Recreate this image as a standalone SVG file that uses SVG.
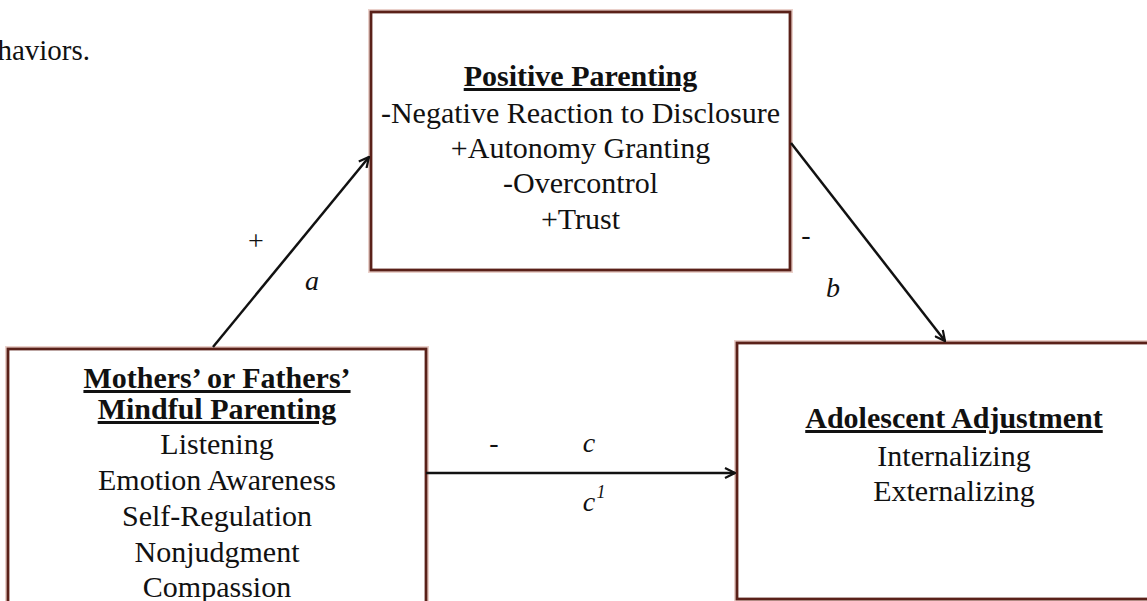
<svg xmlns="http://www.w3.org/2000/svg" width="1147" height="601" viewBox="0 0 1147 601" font-family="Liberation Serif, Times New Roman, serif">
<style>
.box-glow{fill:none;stroke:#ead0ca;stroke-width:6}
.box{fill:#ffffff;stroke:#5a2119;stroke-width:2.8}
.t{font-size:30px;fill:#111;text-anchor:middle}
.h{font-weight:bold;text-decoration:underline}
.lbl{font-size:28px;fill:#111;text-anchor:middle}
.it{font-style:italic}
.sup{font-size:18px}
.conn{stroke:#111;stroke-width:2.5;fill:none}
</style>
<defs>
<marker id="arr" viewBox="0 0 12 12" refX="11" refY="6" markerWidth="12" markerHeight="12" markerUnits="userSpaceOnUse" orient="auto">
<path d="M1,1 L11,6 L1,11" fill="none" stroke="#111" stroke-width="2.2"/>
</marker>
</defs>
<rect width="1147" height="601" fill="#ffffff"/>
<text font-family="Liberation Serif, serif" font-size="29" fill="#111" x="90" y="60" text-anchor="end">haviors.</text>

<g id="node-positive-parenting">
<rect class="box-glow" x="371" y="12" width="419" height="258"/>
<rect class="box" x="371" y="12" width="419" height="258"/>
<text class="t h" x="580.5" y="86">Positive Parenting</text>
<text class="t" x="580.5" y="123">-Negative Reaction to Disclosure</text>
<text class="t" x="580.5" y="158">+Autonomy Granting</text>
<text class="t" x="580.5" y="193">-Overcontrol</text>
<text class="t" x="580.5" y="229">+Trust</text>
</g>

<g id="node-mindful-parenting">
<rect class="box-glow" x="8" y="349" width="418" height="280"/>
<rect class="box" x="8" y="349" width="418" height="280"/>
<text class="t h" x="217" y="388">Mothers’ or Fathers’</text>
<text class="t h" x="217" y="419">Mindful Parenting</text>
<text class="t" x="217" y="454">Listening</text>
<text class="t" x="217" y="490">Emotion Awareness</text>
<text class="t" x="217" y="526">Self-Regulation</text>
<text class="t" x="217" y="562">Nonjudgment</text>
<text class="t" x="217" y="597">Compassion</text>
</g>

<g id="node-adolescent-adjustment">
<rect class="box-glow" x="737" y="343" width="430" height="256"/>
<rect class="box" x="737" y="343" width="430" height="256"/>
<text class="t h" x="954" y="428">Adolescent Adjustment</text>
<text class="t" x="954" y="466">Internalizing</text>
<text class="t" x="954" y="501">Externalizing</text>
</g>

<g id="connectors">
<line class="conn" x1="213" y1="347" x2="369" y2="157" marker-end="url(#arr)"/>
<line class="conn" x1="791" y1="143" x2="945" y2="341" marker-end="url(#arr)"/>
<line class="conn" x1="426" y1="473" x2="735" y2="473" marker-end="url(#arr)"/>
<text class="lbl" x="256" y="250">+</text>
<text class="lbl it" x="312" y="290">a</text>
<text class="lbl" x="806" y="244">-</text>
<text class="lbl it" x="833" y="297">b</text>
<text class="lbl" x="494" y="452">-</text>
<text class="lbl it" x="589" y="452">c</text>
<text class="lbl it" x="589" y="511">c</text>
<text class="lbl it sup" x="601" y="498">1</text>
</g>
</svg>
